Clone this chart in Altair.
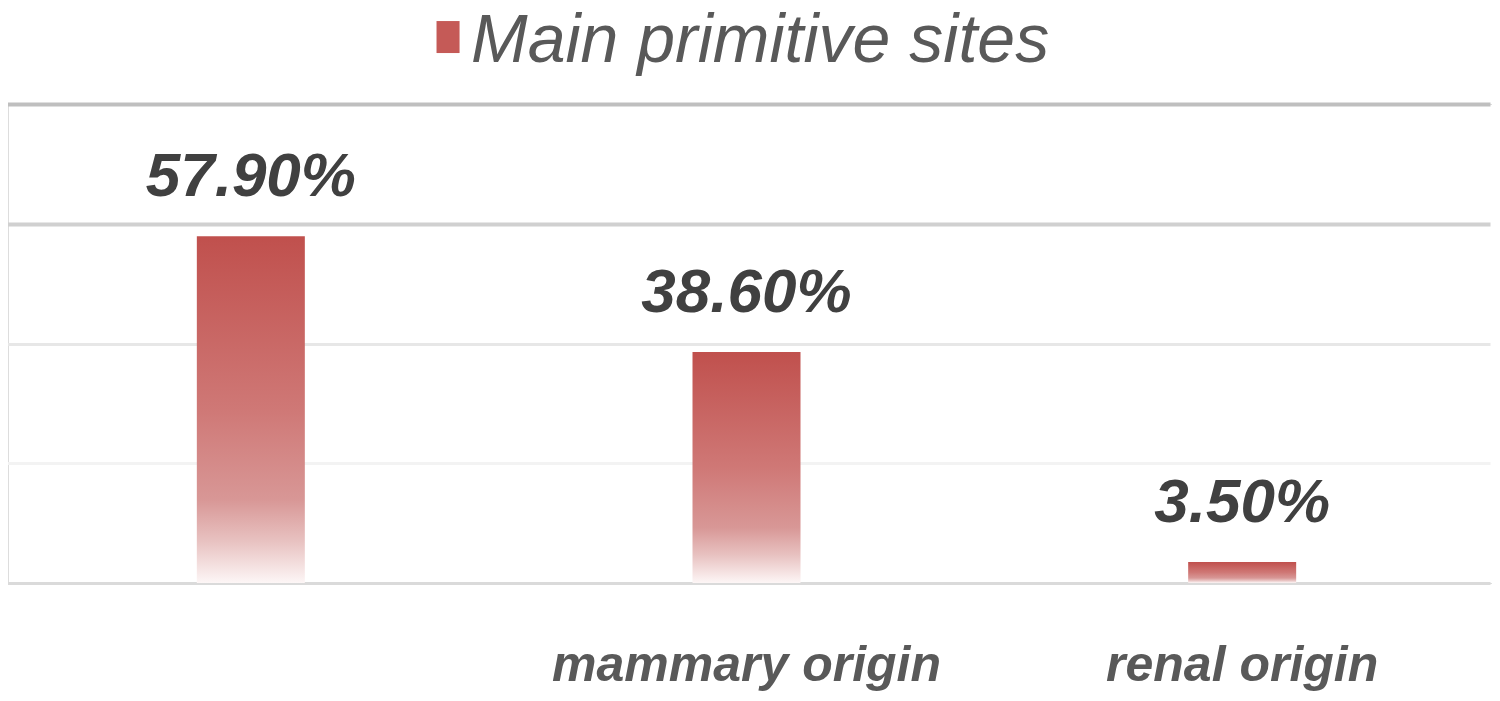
import altair as alt
import pandas as pd

categories = [" ", "mammary origin", "renal origin"]
values = [57.9, 38.6, 3.5]
series_name = "Main primitive sites"
grid_ticks = [0, 20, 40, 60, 80]

df = pd.DataFrame({"category": categories, "value": values, "series": [series_name] * 3})

gradient = {
    "gradient": "linear",
    "x1": 0, "y1": 0, "x2": 0, "y2": 1,
    "stops": [
        {"offset": 0.0, "color": "#c0504d"},
        {"offset": 0.5, "color": "#cf7876"},
        {"offset": 0.76, "color": "#d89796"},
        {"offset": 0.88, "color": "#e8c2c1"},
        {"offset": 1.0, "color": "#fdf6f6"},
    ],
}

x = alt.X(
    "category:N",
    sort=categories,
    scale=alt.Scale(paddingInner=0, paddingOuter=0, range=[-5, 1482]),
    axis=alt.Axis(
        title=None, ticks=False, tickSize=0, domain=False, labelAngle=0, grid=False,
        labelFont="Liberation Sans, Arial, sans-serif",
        labelFontSize=50, labelFontStyle="italic", labelFontWeight="bold",
        labelColor="#595959", labelPadding=97, labelBaseline="alphabetic",
        labelLimit=0,
    ),
)

y = alt.Y(
    "value:Q",
    scale=alt.Scale(domain=[0, 80], nice=False, zero=True),
    axis=alt.Axis(
        title=None, labels=False, ticks=False, domain=False, values=grid_ticks,
        grid=True,
        gridColor={
            "condition": [
                {"test": "datum.value === 80", "value": "#bfbfbf"},
                {"test": "datum.value === 60", "value": "#d0d0d0"},
                {"test": "datum.value === 40", "value": "#e7e7e7"},
                {"test": "datum.value === 20", "value": "#f3f3f3"},
            ],
            "value": "#dadada",
        },
        gridWidth={
            "condition": [
                {"test": "datum.value >= 60", "value": 4},
            ],
            "value": 3,
        },
    ),
)

bars = alt.Chart(df).mark_bar(width=108, color=gradient).encode(x=x, y=y)

legend_layer = alt.Chart(df).mark_point(opacity=0, shape="square", filled=True).encode(
    x=x, y=y,
    color=alt.Color(
        "series:N",
        scale=alt.Scale(range=["#c55a57"]),
        legend=alt.Legend(
            title=None, orient="none", legendX=395, legendY=-96, direction="horizontal",
            symbolType="M-0.03,-1.31H1.41V0.69H-0.03Z", symbolSize=1024, symbolOpacity=1,
            symbolStrokeWidth=0, padding=0,
            labelFont="Liberation Sans, Arial, sans-serif", labelFontSize=68,
            labelFontStyle="italic", labelColor="#595959", labelOffset=0,
            labelLimit=0,
        ),
    ),
)

labels = alt.Chart(df).transform_calculate(
    label="format(datum.value, '.2f') + '%'"
).mark_text(
    dy=-40, baseline="alphabetic", align="center",
    font="Liberation Sans, Arial, sans-serif", fontSize=62, fontStyle="italic",
    fontWeight="bold", color="#404040",
).encode(x=x, y=y, text="label:N")

chart = alt.layer(bars, legend_layer, labels).properties(
    width=1484, height=479,
    autosize=alt.AutoSizeParams(type="none"),
    padding={"left": 0, "top": 96, "right": 0, "bottom": 110},
).configure_view(stroke="transparent", strokeWidth=0).configure_axis(
    domain=False
).configure(background="white")

chart.save("out.html", embed_options={"renderer": "svg", "actions": False})
